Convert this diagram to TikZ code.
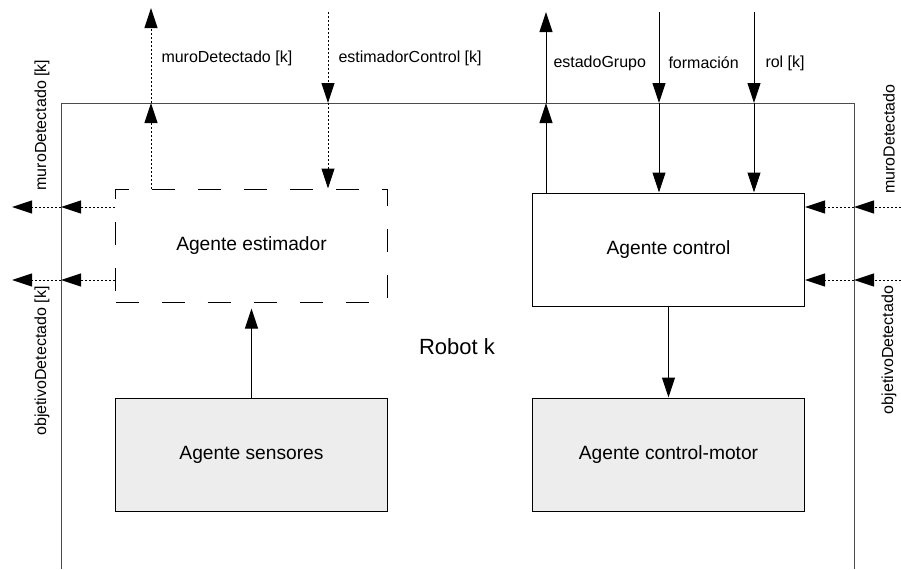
\documentclass[tikz,border=0pt]{standalone}
\usepackage{fontspec}
\setmainfont{Liberation Sans}
\usetikzlibrary{arrows.meta}
\definecolor{gris}{HTML}{EDEDED}

\begin{document}
\begin{tikzpicture}[x=0.5pt,y=-0.5pt,line width=0.5pt,>={Triangle[length=10pt,width=6.5pt]}]
  \tikzset{every node/.style={font=\fontsize{9.6}{11}\selectfont},
    agente/.style={draw,minimum width=136pt,minimum height=56.5pt,inner sep=0pt},
    etiqueta/.style={font=\fontsize{8}{9}\selectfont,inner sep=1pt},
    punteado/.style={dash pattern=on 1pt off 1pt}}
  \useasboundingbox (0,0) rectangle (901,569);

  % marco del robot
  \draw[black!70] (61,569) -- (61,103) -- (854,103) -- (854,569);

  \node[agente,dash pattern=on 11.5pt off 11.5pt] (estimador) at (251.5,245.5) {Agente estimador};
  \node[agente,fill=white] (control) at (668.5,249.5) {Agente control};
  \node[agente,fill=gris]  (sensores) at (251.5,454.5) {Agente sensores};
  \node[agente,fill=gris]  (motor) at (668.5,454.5) {Agente control-motor};
  \node[font=\fontsize{11}{13}\selectfont] (robot) at (457,347) {Robot k};

  \coordinate (muroOut)      at (151,8);
  \coordinate (muroBorde)    at (151,103);
  \coordinate (estCtrlIn)    at (328,12);
  \coordinate (estCtrlBorde) at (328,103);
  \coordinate (grupoOut)     at (546,12);
  \coordinate (grupoBorde)   at (546,103);
  \coordinate (formIn)       at (659,12);
  \coordinate (formBorde)    at (659,103);
  \coordinate (rolIn)        at (754,12);
  \coordinate (rolBorde)     at (754,103);
  \coordinate (muroIzqOut)   at (12,207);
  \coordinate (muroIzqBorde) at (61,207);
  \coordinate (objIzqOut)    at (12,280);
  \coordinate (objIzqBorde)  at (61,280);
  \coordinate (muroDerIn)    at (901,207);
  \coordinate (muroDerBorde) at (854,207);
  \coordinate (objDerIn)     at (901,280);
  \coordinate (objDerBorde)  at (854,280);

  \path[->,punteado]
    (estimador.north -| muroBorde) edge (muroBorde)
    (muroBorde) edge (muroOut)
    (estCtrlIn) edge (estCtrlBorde)
    (estCtrlBorde) edge (estCtrlBorde |- estimador.north)
    (estimador.west |- muroIzqBorde) edge (muroIzqBorde)
    (muroIzqBorde) edge (muroIzqOut)
    (estimador.west |- objIzqBorde) edge (objIzqBorde)
    (objIzqBorde) edge (objIzqOut)
    (muroDerIn) edge (muroDerBorde)
    (muroDerBorde) edge (muroDerBorde -| control.east)
    (objDerIn) edge (objDerBorde)
    (objDerBorde) edge (objDerBorde -| control.east);

  \path[->]
    (control.north -| grupoBorde) edge (grupoBorde)
    (grupoBorde) edge (grupoOut)
    (formIn) edge (formBorde)
    (formBorde) edge (formBorde |- control.north)
    (rolIn) edge (rolBorde)
    (rolBorde) edge (rolBorde |- control.north)
    (sensores) edge[shorten >=3pt] (estimador)
    (control) edge (motor);

  \node[etiqueta,anchor=west] (lMuro)    at (159,58) {muroDetectado [k]};
  \node[etiqueta,anchor=west] (lEstCtrl) at (336,58) {estimadorControl [k]};
  \node[etiqueta,anchor=west] (lGrupo)   at (551,63) {estadoGrupo};
  \node[etiqueta,anchor=west] (lForm)    at (666,63) {formación};
  \node[etiqueta,anchor=west] (lRol)     at (763,63) {rol [k]};
  \node[etiqueta,rotate=90] (lMuroIzq) at (42,125) {muroDetectado [k]};
  \node[etiqueta,rotate=90] (lObjIzq)  at (42,361) {objetivoDetectado [k]};
  \node[etiqueta,rotate=90] (lMuroDer) at (889,139) {muroDetectado};
  \node[etiqueta,rotate=90] (lObjDer)  at (889,350) {objetivoDetectado};
\end{tikzpicture}
\end{document}
